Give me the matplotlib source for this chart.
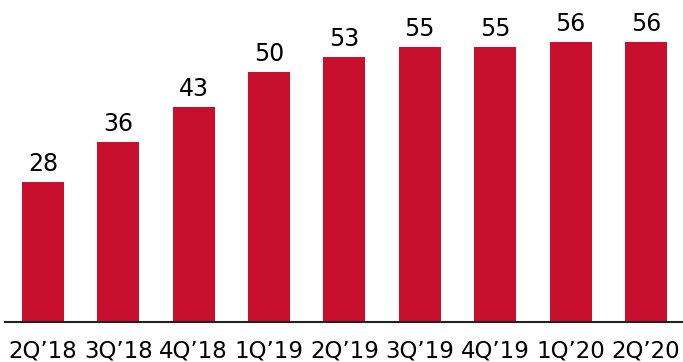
import matplotlib.pyplot as plt

quarters = ["2Q\u201918", "3Q\u201918", "4Q\u201918", "1Q\u201919", "2Q\u201919",
            "3Q\u201919", "4Q\u201919", "1Q\u201920", "2Q\u201920"]
values = [28, 36, 43, 50, 53, 55, 55, 56, 56]

fig = plt.figure(figsize=(6.83, 3.62), dpi=100)
ax = fig.add_axes([5 / 683, 40 / 362, 678 / 683, 322 / 362])

x = range(len(quarters))
bars = ax.bar(x, values, width=0.557, color="#C8102E")

for b, v in zip(bars, values):
    ax.text(b.get_x() + b.get_width() / 2, v + 1.3, str(v),
            ha="center", va="bottom", fontsize=17, color="black")

ax.set_xlim(-0.504, 8.491)
ax.set_ylim(0, 64.4)
ax.set_xticks(list(x))
ax.set_xticklabels(quarters, fontsize=16.5)
ax.tick_params(axis="x", length=0, pad=12.5)
ax.set_yticks([])
for side in ["top", "right", "left"]:
    ax.spines[side].set_visible(False)
ax.spines["bottom"].set_color("#222222")
ax.spines["bottom"].set_linewidth(1.5)

plt.savefig("out.png", dpi=100)
